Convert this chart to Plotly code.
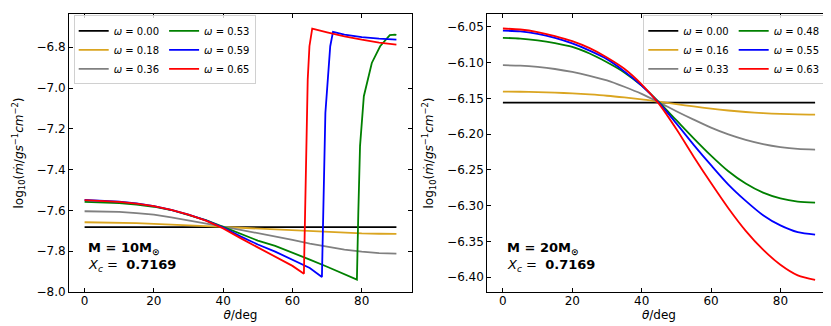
import plotly.graph_objects as go

# ---- left panel: M = 10 Msun ----
omega_10 = [0.00, 0.18, 0.36, 0.53, 0.59, 0.65]
theta_grid = [0, 5, 10, 15, 20, 25, 30, 35, 40, 45, 50, 55, 60, 65, 70, 75, 80, 85, 90]

black_10 = [-7.682] * 19
orange_10 = [-7.658, -7.6585, -7.660, -7.6625, -7.666, -7.669, -7.673, -7.677, -7.681, -7.685,
             -7.689, -7.694, -7.699, -7.703, -7.707, -7.710, -7.713, -7.7145, -7.715]
gray_10 = [-7.604, -7.605, -7.607, -7.613, -7.621, -7.634, -7.648, -7.663, -7.679, -7.695,
           -7.711, -7.727, -7.745, -7.763, -7.779, -7.792, -7.802, -7.809, -7.812]

green_10_x = [0, 5, 10, 15, 20, 25, 30, 35, 40, 45, 50, 55, 60, 65, 70, 75, 78.6,
              79.0, 79.5, 80.6, 82.9, 85.3, 88.1, 89.6, 90]
green_10_y = [-7.558, -7.560, -7.564, -7.572, -7.582, -7.598, -7.622, -7.648, -7.681, -7.716,
              -7.748, -7.774, -7.806, -7.841, -7.876, -7.912, -7.939,
              -7.613, -7.285, -7.040, -6.877, -6.795, -6.741, -6.738, -6.740]

blue_10_x = [0, 5, 10, 15, 20, 25, 30, 35, 40, 45, 50, 55, 60, 65, 68.5,
             69.5, 70.9, 71.7, 75, 80, 85, 90]
blue_10_y = [-7.549, -7.552, -7.557, -7.566, -7.579, -7.597, -7.621, -7.649, -7.684, -7.727,
             -7.767, -7.802, -7.840, -7.882, -7.926,
             -7.122, -6.795, -6.725, -6.738, -6.750, -6.758, -6.763]

red_10_x = [0, 5, 10, 15, 20, 25, 30, 35, 40, 45, 50, 55, 60, 63.3,
            64.0, 64.4, 64.9, 65.7, 70, 75, 80, 85, 90]
red_10_y = [-7.550, -7.553, -7.558, -7.567, -7.579, -7.597, -7.621, -7.650, -7.688, -7.736,
            -7.782, -7.826, -7.872, -7.911,
            -7.285, -6.959, -6.795, -6.709, -6.727, -6.747, -6.763, -6.777, -6.787]

# ---- right panel: M = 20 Msun ----
omega_20 = [0.00, 0.16, 0.33, 0.48, 0.55, 0.63]
black_20 = [-6.1558] * 19
orange_20 = [-6.1405, -6.1407, -6.1411, -6.1419, -6.1431, -6.1445, -6.1463, -6.1487, -6.1514, -6.1547,
             -6.1580, -6.1613, -6.1643, -6.1669, -6.1690, -6.1706, -6.1717, -6.1724, -6.1727]
gray_20 = [-6.1036, -6.1042, -6.1060, -6.1089, -6.1130, -6.1184, -6.1248, -6.1337, -6.1437, -6.1555,
           -6.1679, -6.1797, -6.1909, -6.2004, -6.2080, -6.2139, -6.2181, -6.2207, -6.2216]
green_20 = [-6.0654, -6.0663, -6.0689, -6.0728, -6.0781, -6.0873, -6.0995, -6.1137, -6.1322, -6.1552,
            -6.1805, -6.2058, -6.2300, -6.2519, -6.2691, -6.2818, -6.2898, -6.2942, -6.2956]
blue_20 = [-6.0552, -6.0563, -6.0598, -6.0655, -6.0732, -6.0832, -6.0951, -6.1122, -6.1322, -6.1564,
           -6.1850, -6.2149, -6.2434, -6.2705, -6.2933, -6.3133, -6.3276, -6.3370, -6.3404]
red_20 = [-6.0523, -6.0537, -6.0572, -6.0628, -6.0699, -6.0797, -6.0927, -6.1085, -6.1303, -6.1577,
          -6.1929, -6.2315, -6.2684, -6.3036, -6.3352, -6.3615, -6.3826, -6.3974, -6.4037]

colors = ["black", "#DAA520", "gray", "green", "blue", "red"]
FONT = "DejaVu Sans"

fig = go.Figure()

left = [(theta_grid, black_10), (theta_grid, orange_10), (theta_grid, gray_10),
        (green_10_x, green_10_y), (blue_10_x, blue_10_y), (red_10_x, red_10_y)]
for i, (xs, ys) in enumerate(left):
    fig.add_trace(go.Scatter(
        x=xs, y=ys, mode="lines", line=dict(color=colors[i], width=1.8),
        name=f"<i>ω</i> = {omega_10[i]:.2f}", legend="legend",
        legendgroup="a" if i < 3 else "b",
        xaxis="x", yaxis="y"))

right = [black_20, orange_20, gray_20, green_20, blue_20, red_20]
for i, ys in enumerate(right):
    fig.add_trace(go.Scatter(
        x=theta_grid, y=ys, mode="lines", line=dict(color=colors[i], width=1.8, shape="spline", smoothing=0.8),
        name=f"<i>ω</i> = {omega_20[i]:.2f}", legend="legend2",
        legendgroup="c" if i < 3 else "d",
        xaxis="x2", yaxis="y2"))

axis_common = dict(showline=True, linecolor="black", linewidth=1, mirror="ticks",
                   ticks="inside", ticklen=4, tickcolor="black", showgrid=False,
                   zeroline=False, tickfont=dict(family=FONT, size=12, color="black"))

ytitle = "log<sub>10</sub>(<i>ṁ</i>/<i>gs</i><sup>−1</sup><i>cm</i><sup>−2</sup>)"
xtitle = dict(text="<i>θ</i>/deg", font=dict(size=12), standoff=2)

legend_common = dict(orientation="h", traceorder="grouped", bgcolor="rgba(255,255,255,0.8)",
                     bordercolor="#d0d0d0", borderwidth=1, itemwidth=30,
                     font=dict(family=FONT, size=10, color="black"), yanchor="top",
                     tracegroupgap=4)

fig.update_layout(
    width=831, height=326,
    margin=dict(l=0, r=0, t=6, b=42),
    plot_bgcolor="white", paper_bgcolor="white",
    font=dict(family=FONT, color="black"),
    showlegend=True,
    xaxis=dict(domain=[61 / 831, 404 / 831], range=[-4.5, 94.5], tickvals=[0, 20, 40, 60, 80],
               title=xtitle, anchor="y", ticklabelstandoff=-2, **axis_common),
    yaxis=dict(domain=[0, 1], range=[-8.0, -6.637], tickvals=[-8.0, -7.8, -7.6, -7.4, -7.2, -7.0, -6.8],
               tickformat=".1f", title=dict(text=ytitle, font=dict(size=12), standoff=10), anchor="x", **axis_common),
    xaxis2=dict(domain=[479.3 / 831, 822.7 / 831], range=[-4.5, 94.5], tickvals=[0, 20, 40, 60, 80],
                title=xtitle, anchor="y2", ticklabelstandoff=-2, **axis_common),
    yaxis2=dict(domain=[0, 1], range=[-6.4207, -6.032],
                tickvals=[-6.40, -6.35, -6.30, -6.25, -6.20, -6.15, -6.10, -6.05],
                tickformat=".2f", title=dict(text=ytitle, font=dict(size=12), standoff=10), anchor="x2", **axis_common),
    legend=dict(x=65.7 / 831, xanchor="left", y=0.995, **legend_common),
    legend2=dict(x=817.3 / 831, xanchor="right", y=0.995, **legend_common),
)

ann_font = dict(family=FONT, size=13, color="black")
fig.add_annotation(x=0.5, y=-7.787, xref="x", yref="y", xanchor="left", showarrow=False,
                   text="<b>M = 10M<sub>⊙</sub></b>", font=ann_font)
fig.add_annotation(x=0.5, y=-7.872, xref="x", yref="y", xanchor="left", showarrow=False,
                   text="<i>X<sub>c</sub></i> =  <b>0.7169</b>", font=ann_font)
fig.add_annotation(x=0.7, y=-6.3600, xref="x2", yref="y2", xanchor="left", showarrow=False,
                   text="<b>M = 20M<sub>⊙</sub></b>", font=ann_font)
fig.add_annotation(x=0.7, y=-6.3840, xref="x2", yref="y2", xanchor="left", showarrow=False,
                   text="<i>X<sub>c</sub></i> =  <b>0.7169</b>", font=ann_font)

fig.write_html("out.html")
